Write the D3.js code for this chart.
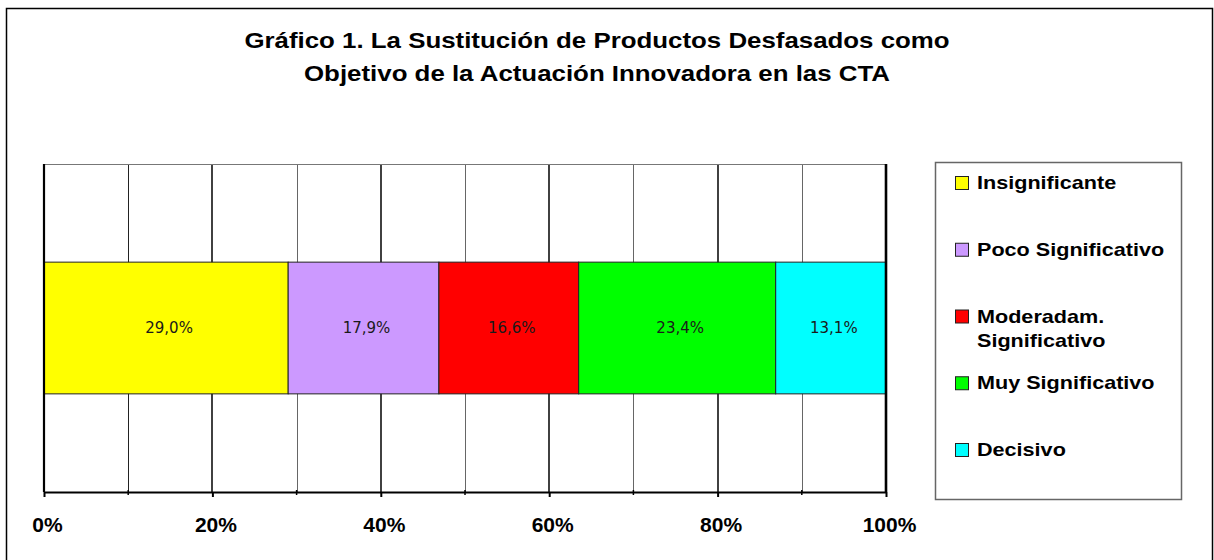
<!DOCTYPE html>
<html>
<head>
<meta charset="utf-8">
<title>Gráfico 1</title>
<script src="https://d3js.org/d3.v7.min.js"></script>
<style>
  body { margin: 0; background: #fff; }
  svg { display: block; }
</style>
</head>
<body>
<script>
// data
const categories = ["Insignificante", "Poco Significativo", "Moderadam. Significativo", "Muy Significativo", "Decisivo"];
const legendLines = [["Insignificante"], ["Poco Significativo"], ["Moderadam.", "Significativo"], ["Muy Significativo"], ["Decisivo"]];
const values = [29.0, 17.9, 16.6, 23.4, 13.1];
const colors = ["#FFFF00", "#CC99FF", "#FF0000", "#00FF00", "#00FFFF"];
const tickValues = [0, 20, 40, 60, 80, 100];
const minorTicks = [10, 30, 50, 70, 90];
const titleLines = ["Gráfico 1. La Sustitución de Productos Desfasados como",
                    "Objetivo de la Actuación Innovadora en las CTA"];

const W = 1214, H = 560;
const plot = {left: 44, right: 886, top: 164, bottom: 492};

const svg = d3.select("body").append("svg")
    .attr("width", W)
    .attr("height", H);

svg.append("rect").attr("width", W).attr("height", H).attr("fill", "#fff");

// outer frame
svg.append("rect")
    .attr("x", 6.5).attr("y", 8.5)
    .attr("width", 1206).attr("height", 570)
    .attr("fill", "none")
    .attr("stroke", "#000")
    .attr("stroke-width", 1.5);

// title (text in the original is horizontally stretched)
svg.append("g").selectAll("text")
    .data(titleLines)
    .join("text")
    .attr("transform", (d, i) => "translate(597," + (48 + i * 33) + ") scale(1.175,1)")
    .attr("text-anchor", "middle")
    .attr("font-family", "'Liberation Sans', Arial, sans-serif")
    .attr("font-weight", "bold")
    .attr("font-size", 22)
    .attr("fill", "#000")
    .text(d => d);

const x = d3.scaleLinear().domain([0, 100]).range([plot.left, plot.right]);
const y = d3.scaleBand().domain(["CTA"]).range([plot.top, plot.bottom])
    .paddingInner(0).paddingOuter(0.745);

// gridlines
const grid = svg.append("g");
grid.selectAll("line.minor")
    .data(minorTicks)
    .join("line")
    .attr("class", "minor")
    .attr("x1", d => Math.round(x(d)) + 0.5).attr("x2", d => Math.round(x(d)) + 0.5)
    .attr("y1", plot.top).attr("y2", plot.bottom)
    .attr("stroke", (d, i) => i === 0 ? "#222" : "#666")
    .attr("stroke-width", 1);
grid.selectAll("line.major")
    .data(tickValues.slice(1, -1))
    .join("line")
    .attr("class", "major")
    .attr("x1", d => Math.round(x(d))).attr("x2", d => Math.round(x(d)))
    .attr("y1", plot.top).attr("y2", plot.bottom)
    .attr("stroke", "#111")
    .attr("stroke-width", 1.6);
grid.append("line")
    .attr("x1", plot.left).attr("x2", plot.right)
    .attr("y1", plot.top + 0.5).attr("y2", plot.top + 0.5)
    .attr("stroke", "#777").attr("stroke-width", 1.2);

// stacked bar
const starts = [0].concat(Array.from(d3.cumsum(values)).slice(0, -1));
const bars = svg.append("g");
bars.selectAll("rect")
    .data(values)
    .join("rect")
    .attr("x", (d, i) => x(starts[i]))
    .attr("y", y("CTA"))
    .attr("width", (d, i) => x(starts[i] + d) - x(starts[i]))
    .attr("height", y.bandwidth())
    .attr("fill", (d, i) => colors[i])
    .attr("stroke", "#222")
    .attr("stroke-width", 1);

bars.selectAll("text")
    .data(values)
    .join("text")
    .attr("x", (d, i) => x(starts[i] + d / 2) + 3)
    .attr("y", y("CTA") + y.bandwidth() / 2)
    .attr("dy", "0.36em")
    .attr("text-anchor", "middle")
    .attr("font-family", "'DejaVu Sans', sans-serif")
    .attr("font-size", 15)
    .attr("fill", "#1a1a1a")
    .text(d => d3.format(".1f")(d).replace(".", ",") + "%");

// plot side lines
svg.append("line")
    .attr("x1", plot.left).attr("x2", plot.left)
    .attr("y1", plot.top).attr("y2", plot.bottom)
    .attr("stroke", "#000").attr("stroke-width", 2.2);
svg.append("line")
    .attr("x1", plot.right).attr("x2", plot.right)
    .attr("y1", plot.top).attr("y2", plot.bottom)
    .attr("stroke", "#000").attr("stroke-width", 2.6);

// x axis
const xAxis = d3.axisBottom(x)
    .tickValues(tickValues)
    .tickSize(5)
    .tickSizeOuter(0)
    .tickFormat(d => d + "%");

const axisG = svg.append("g")
    .attr("transform", "translate(0," + plot.bottom + ")")
    .call(xAxis);
axisG.select(".domain").attr("stroke", "#000").attr("stroke-width", 2.2);
axisG.selectAll(".tick line").attr("stroke", "#000").attr("stroke-width", 2);
axisG.selectAll(".tick text")
    .attr("y", 40).attr("dy", 0).attr("x", 3)
    .attr("font-family", "'Liberation Sans', Arial, sans-serif")
    .attr("font-weight", "bold")
    .attr("font-size", 21)
    .attr("fill", "#000");
axisG.selectAll("line.minorTick")
    .data(minorTicks)
    .join("line")
    .attr("class", "minorTick")
    .attr("x1", d => x(d)).attr("x2", d => x(d))
    .attr("y1", -2).attr("y2", 3)
    .attr("stroke", "#000").attr("stroke-width", 1.5);

// legend
const legend = svg.append("g");
legend.append("rect")
    .attr("x", 935.5).attr("y", 162.5)
    .attr("width", 246).attr("height", 337)
    .attr("fill", "#fff")
    .attr("stroke", "#666")
    .attr("stroke-width", 1.5);

const itemY = d3.scalePoint().domain(categories).range([183, 450]);
const items = legend.selectAll("g.item")
    .data(categories)
    .join("g")
    .attr("class", "item")
    .attr("transform", d => "translate(955," + itemY(d) + ")");
items.append("rect")
    .attr("x", 0.5).attr("y", -6.5)
    .attr("width", 13).attr("height", 13)
    .attr("fill", (d, i) => colors[i])
    .attr("stroke", "#222")
    .attr("stroke-width", 1);
items.each(function(d, i) {
    d3.select(this).selectAll("text")
        .data(legendLines[i])
        .join("text")
        .attr("transform", (t, j) => "translate(22," + (6 + j * 24) + ") scale(1.2,1)")
        .attr("font-family", "'Liberation Sans', Arial, sans-serif")
        .attr("font-weight", "bold")
        .attr("font-size", 18)
        .attr("fill", "#000")
        .text(t => t);
});
</script>
</body>
</html>
